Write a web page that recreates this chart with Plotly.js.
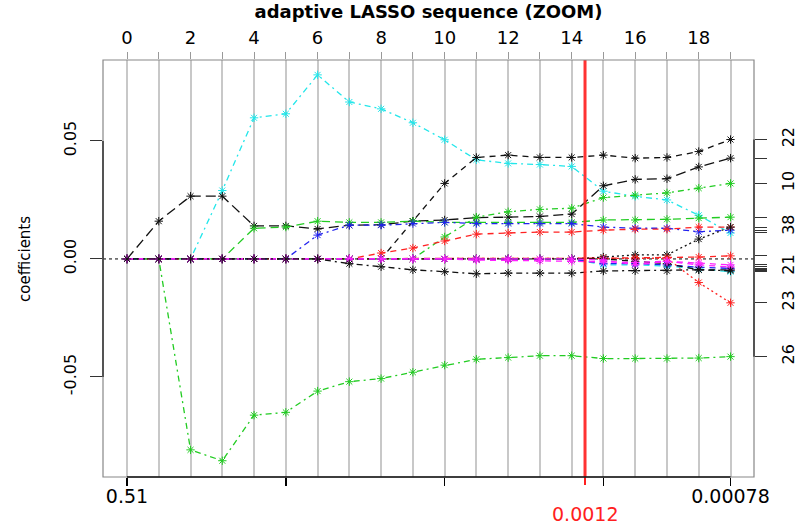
<!DOCTYPE html>
<html><head><meta charset="utf-8">
<script src="https://cdn.plot.ly/plotly-3.0.1.min.js"></script>
<style>html,body{margin:0;padding:0;background:#fff}#chart{width:800px;height:529px}</style>
</head><body><div id="chart"></div>
<script>
// ---- data ----
const steps = [0,1,2,3,4,5,6,7,8,9,10,11,12,13,14,15,16,17,18,19];
const topTickLabels = ['0','','2','','4','','6','','8','','10','','12','','14','','16','','18',''];
const lambdaTickSteps = [0,5,10,15,19];
const lambdaTickLabels = ['0.51','','','','0.00078'];
const selectedStep = 14.42;
const selectedLambda = '0.0012';
const yTickVals = [-0.05, 0, 0.05];
const yTickLabels = ['-0.05','0.00','0.05'];

const coefCyanBig   = [0,0,0,0.029,0.0598,0.0615,0.078,0.0665,0.0636,0.0577,0.0505,0.042,0.0405,0.0400,0.0392,0.0287,0.0265,0.0250,0.0185,0.0110];
const coefGreenNeg  = [0,0,-0.0809,-0.0855,-0.0662,-0.0650,-0.0560,-0.0520,-0.0507,-0.0480,-0.0450,-0.0425,-0.0418,-0.0410,-0.0410,-0.0422,-0.0422,-0.0422,-0.0420,-0.0414];
const coefBlackLong = [0,0.016,0.0266,0.0266,0.0140,0.0140,0.0127,0.0143,0.0145,0.0160,0.0165,0.0175,0.0177,0.0180,0.0190,0.0310,0.0337,0.0340,0.0390,0.0427];
const coefBlackRise = [0,0,0,0,0,0,0,0,0,0.0160,0.0320,0.0430,0.0440,0.0430,0.0430,0.0440,0.0427,0.0430,0.0455,0.0506];
const coefGreenMid  = [0,0,0,0,0.0130,0.0135,0.0160,0.0155,0.0155,0.0160,0.0155,0.0155,0.0155,0.0155,0.0155,0.0165,0.0165,0.0168,0.0173,0.0177];
const coefGreenRise = [0,0,0,0,0,0,0,0,0,0,0.0093,0.0177,0.0200,0.0210,0.0215,0.0260,0.0270,0.0280,0.0300,0.0320];
const coefBlueMid   = [0,0,0,0,0,0,0.0101,0.0143,0.0143,0.0150,0.0155,0.0150,0.0150,0.0150,0.0150,0.0135,0.0130,0.0130,0.0115,0.0122];
const coefRedMid    = [0,0,0,0,0,0,0,0,0.0025,0.0046,0.0076,0.0105,0.0110,0.0114,0.0114,0.0122,0.0126,0.0126,0.0135,0.0135];
const coefRedDrop   = [0,0,0,0,0,0,0,0,0,0,0,0,0,0,0,0,0,0.0003,-0.0100,-0.0186];
const coefBlackEnd  = [0,0,0,0,0,0,0,0,0,0,0,0,0,0,0,0.0008,0.0017,0.0017,0.0084,0.0135];
const coefRedSmall  = [0,0,0,0,0,0,0,0,0,0,0,0,0,0,0,0.0003,0.0005,0.0005,0.0008,0.0013];
const coefCyanSmall = [0,0,0,0,0,0,0,0,0,0,0,0,0,0,0,-0.0025,-0.0025,-0.0030,-0.0043,-0.0054];
const coefBlueSmall = [0,0,0,0,0,0,0,0,0,0,0,0,0,0,0,-0.0020,-0.0020,-0.0025,-0.0035,-0.0040];
const coefBlackSmall= [0,0,0,0,0,0,0,0,0,0,0,0,0,0,0,0,-0.0010,-0.0020,-0.0046,-0.0046];
const coefMagSmall  = [0,0,0,0,0,0,0,0,0,0,0,0,0,0,0,-0.0005,-0.0025,-0.0010,-0.0025,-0.0034];
const coefMagZero   = [0,0,0,0,0,0,0,0,0,0,0,-0.0005,-0.0005,-0.0008,-0.0010,-0.0013,-0.0015,-0.0010,-0.0017,-0.0025];
const coefBlackNeg  = [0,0,0,0,0,0,0,-0.0020,-0.0033,-0.0046,-0.0054,-0.0063,-0.0060,-0.0060,-0.0060,-0.0051,-0.0050,-0.0050,-0.0046,-0.0050];

const seriesList = [
  {v: coefCyanBig,    col:'#22E6EA', dash:'2px,4px,6px,4px', lab:''},
  {v: coefGreenNeg,   col:'#22CC22', dash:'2px,4px,6px,4px', lab:'26'},
  {v: coefBlackLong,  col:'#111111', dash:'10px,5px',        lab:''},
  {v: coefBlackRise,  col:'#111111', dash:'6px,5px',         lab:'22'},
  {v: coefGreenMid,   col:'#22CC22', dash:'8px,5px',         lab:''},
  {v: coefGreenRise,  col:'#22CC22', dash:'2px,4px,6px,4px', lab:'10'},
  {v: coefBlueMid,    col:'#2222EE', dash:'2px,4px,6px,4px', lab:''},
  {v: coefRedMid,     col:'#FF2222', dash:'6px,5px',         lab:'38'},
  {v: coefRedDrop,    col:'#FF2222', dash:'2px,3px',         lab:'23'},
  {v: coefBlackEnd,   col:'#111111', dash:'2px,3px',         lab:''},
  {v: coefRedSmall,   col:'#FF2222', dash:'6px,5px',         lab:''},
  {v: coefCyanSmall,  col:'#22E6EA', dash:'6px,5px',         lab:''},
  {v: coefBlueSmall,  col:'#2222EE', dash:'6px,5px',         lab:''},
  {v: coefBlackSmall, col:'#111111', dash:'6px,5px',         lab:''},
  {v: coefMagSmall,   col:'#FF22FF', dash:'6px,5px',         lab:'21'},
  {v: coefMagZero,    col:'#FF22FF', dash:'6px,5px',         lab:''},
  {v: coefBlackNeg,   col:'#111111', dash:'2px,4px,6px,4px', lab:''}
];

// ---- chart ----
const FONT = 'DejaVu Sans';
const traces = seriesList.map(s => ({
  type:'scatter', mode:'lines+markers', x: steps, y: s.v, xaxis:'x', yaxis:'y',
  line:{color:s.col, width:1.3, dash:s.dash},
  marker:{symbol:'asterisk-open', size:7, color:s.col, line:{width:1, color:s.col}},
  hoverinfo:'skip', cliponaxis:false
}));
// helper traces so the top and right axes exist
traces.push({type:'scatter', mode:'markers', x:[steps[0]], y:[0], xaxis:'x2', yaxis:'y', marker:{opacity:0}, hoverinfo:'skip'});
traces.push({type:'scatter', mode:'markers', x:[steps[0]], y:[0], xaxis:'x', yaxis:'y2', marker:{opacity:0}, hoverinfo:'skip'});

const finalVals = seriesList.map(s => s.v[s.v.length-1]);
const finalLabs = seriesList.map(s => s.lab);
const xRange = [-0.756, 19.74];
const yRange = [-0.0924, 0.0843];
const plotH = 529 - 60 - 52;

const layout = {
  width:800, height:529,
  margin:{l:103, r:46, t:60, b:52},
  paper_bgcolor:'#ffffff', plot_bgcolor:'#ffffff',
  showlegend:false,
  title:{text:'adaptive LASSO sequence (ZOOM)', font:{family:FONT, size:18, weight:'bold', color:'#000'},
         x:0.5, xref:'paper', xanchor:'center', y:1-12/529, yref:'container', yanchor:'middle'},
  xaxis:{range:xRange, tickvals:lambdaTickSteps, ticktext:lambdaTickLabels, ticks:'outside', ticklen:8,
         tickwidth:1.5, tickcolor:'#000', showgrid:false, zeroline:false, showline:false,
         tickfont:{family:FONT, size:19, color:'#000'}, ticklabelstandoff:-6},
  xaxis2:{range:xRange, overlaying:'x', side:'top', tickvals:steps, ticktext:topTickLabels, ticks:'outside',
          ticklen:7, tickwidth:1, tickcolor:'#999', showgrid:true, gridcolor:'#c8c8c8', gridwidth:2,
          zeroline:false, showline:false, tickfont:{family:FONT, size:18, color:'#000'}, ticklabelstandoff:1},
  yaxis:{range:yRange, tickvals:yTickVals, ticktext:yTickLabels, tickangle:-90, ticks:'outside', ticklen:12,
         tickwidth:1, tickcolor:'#333', showgrid:false, zeroline:false, showline:false,
         tickfont:{family:FONT, size:16, color:'#000'}, ticklabelstandoff:8},
  yaxis2:{range:yRange, overlaying:'y', side:'right', tickvals:finalVals, ticktext:finalLabs, tickangle:-90,
          ticks:'outside', ticklen:12, tickwidth:1, tickcolor:'#333', showgrid:false, zeroline:false, showline:false,
          tickfont:{family:FONT, size:16, color:'#000'}, ticklabelstandoff:8},
  shapes:[
    {type:'line', xref:'paper', yref:'y', x0:0, x1:1, y0:0, y1:0, line:{color:'#000', width:1, dash:'dot'}, layer:'below'},
    {type:'line', xref:'x', yref:'paper', x0:selectedStep, x1:selectedStep, y0:0, y1:1, line:{color:'rgba(255,40,40,0.95)', width:3}},
    {type:'line', xref:'x', yref:'paper', x0:selectedStep, x1:selectedStep, y0:0, y1:-8/plotH, line:{color:'#ff2020', width:2}},
    {type:'rect', xref:'paper', yref:'paper', x0:0, x1:1, y0:0, y1:1, line:{color:'#888', width:1.2}},
    {type:'line', xref:'paper', yref:'y', x0:0, x1:0, y0:yTickVals[0], y1:yTickVals[2], line:{color:'#333', width:1.5}},
    {type:'line', xref:'x', yref:'paper', x0:lambdaTickSteps[0], x1:lambdaTickSteps[4], y0:0, y1:0, line:{color:'#111', width:1.5}},
    {type:'line', xref:'paper', yref:'y', x0:1, x1:1, y0:Math.min(...finalVals), y1:Math.max(...finalVals), line:{color:'#333', width:1.5}}
  ],
  annotations:[
    {text:'coefficients', xref:'paper', yref:'y', x:(25-103)/651, y:0, textangle:-90, showarrow:false,
     xanchor:'center', yanchor:'middle', font:{family:FONT, size:15, color:'#000'}},
    {text:selectedLambda, xref:'x', yref:'paper', x:selectedStep, y:-(514-477)/plotH, showarrow:false,
     xanchor:'center', yanchor:'middle', font:{family:FONT, size:19, color:'#ff2020'}}
  ]
};
Plotly.newPlot('chart', traces, layout, {displayModeBar:false, staticPlot:true});
</script></body></html>
